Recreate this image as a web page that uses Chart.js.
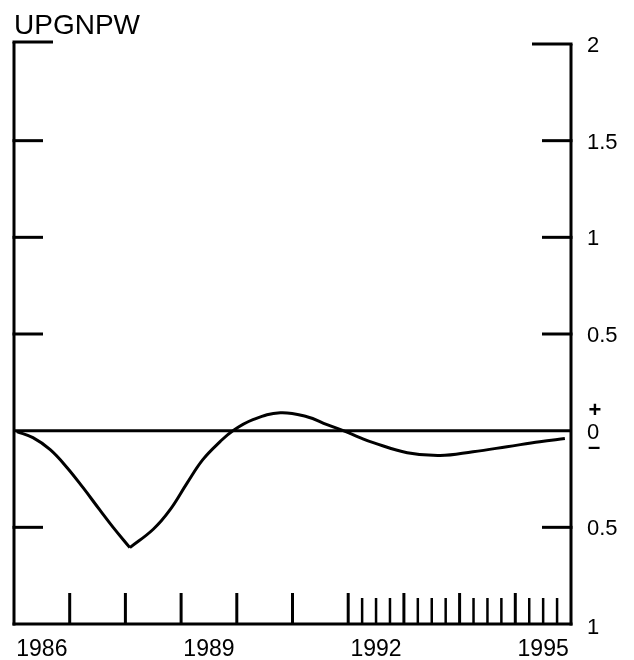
<!DOCTYPE html>
<html>
<head>
<meta charset="utf-8">
<title>UPGNPW</title>
<script src="https://cdn.jsdelivr.net/npm/chart.js@4.4.0/dist/chart.umd.min.js"></script>
<style>
  html, body { margin: 0; padding: 0; background: #fff; }
  #wrap { width: 634px; height: 660px; position: relative; }
</style>
</head>
<body>
<div id="wrap"><canvas id="myChart"></canvas></div>
<script>
'use strict'

// values (year as decimal, deviation)
const times = [1986.05, 1986.34, 1986.65, 1986.95, 1987.24, 1987.54, 1987.78, 1988.08, 1988.50, 1988.80,
               1989.11, 1989.39, 1989.70, 1989.93, 1990.29, 1990.78, 1991.26, 1991.62, 1991.91, 1992.21,
               1992.45, 1993.06, 1993.65, 1994.24, 1994.85, 1995.44, 1995.89];
const values = [-0.005, -0.036, -0.098, -0.19, -0.295, -0.41, -0.50, -0.605, -0.51, -0.41,
                -0.27, -0.15, -0.057, 0, 0.057, 0.093, 0.072, 0.031, 0, -0.036,
                -0.062, -0.114, -0.129, -0.109, -0.083, -0.057, -0.041];

const yTicks = [2, 1.5, 1, 0.5, -0.5, -1];
const yTickLabels = ['2', '1.5', '1', '0.5', '0.5', '1'];
const yearLabels = [1986, 1989, 1992, 1995];
const majorYears = [1987, 1988, 1989, 1990, 1991, 1992, 1993, 1994, 1995];
const quarterStart = 1992;
const quarterEnd = 1996;
const title = 'UPGNPW';

const points = times.map((t, i) => ({ x: t, y: values[i] }));
// the curve has a sharp turn at its lowest point, so draw it as two pieces
const lowIdx = values.indexOf(Math.min(...values));
const partA = points.slice(0, lowIdx + 1);
const partB = points.slice(lowIdx);

const FONT = '"Liberation Sans", Arial, Helvetica, sans-serif';

// frame, inward ticks and labels, drawn from the chart scales
const framePlugin = {
    id: 'frame',
    afterDraw(chart) {
        const ctx = chart.ctx;
        const xs = chart.scales.x;
        const ys = chart.scales.y;
        const L = xs.getPixelForValue(1986);
        const R = xs.getPixelForValue(1996);
        const T = ys.getPixelForValue(2);
        const B = ys.getPixelForValue(-1);
        const Z = ys.getPixelForValue(0);

        ctx.save();
        ctx.strokeStyle = '#000';
        ctx.lineWidth = 3;
        ctx.lineCap = 'butt';

        const line = (x1, y1, x2, y2) => {
            ctx.beginPath();
            ctx.moveTo(x1, y1);
            ctx.lineTo(x2, y2);
            ctx.stroke();
        };

        // axes
        line(L, T - 2, L, B + 1.5);
        line(R, T, R, B + 1.5);
        line(L - 1.5, B, R + 1.5, B);
        line(L, Z, R, Z);

        // left/right ticks
        yTicks.forEach(v => {
            if (v === -1) return;
            const y = ys.getPixelForValue(v);
            const len = v === 2 ? 39 : 29;
            line(L - 1.5, v === 2 ? y - 2 : y, L + len, v === 2 ? y - 2 : y);
            line(R - len, y, R + 1.5, y);
        });

        // bottom ticks
        majorYears.forEach(yr => {
            const x = xs.getPixelForValue(yr);
            line(x, B, x, B - 31);
        });
        for (let q = quarterStart; q < quarterEnd; q += 0.25) {
            if (Number.isInteger(q)) continue;
            const x = xs.getPixelForValue(q);
            ctx.lineWidth = 2.5;
            line(x, B, x, B - 26);
            ctx.lineWidth = 3;
        }

        // labels
        ctx.fillStyle = '#000';
        ctx.font = '22px ' + FONT;
        ctx.textAlign = 'left';
        ctx.textBaseline = 'middle';
        yTicks.forEach((v, i) => {
            const y = ys.getPixelForValue(v);
            ctx.fillText(yTickLabels[i], R + 16, v === -1 ? y + 4 : y + 2);
        });
        ctx.fillText('0', R + 16, Z + 2);
        ctx.font = 'bold 22px ' + FONT;
        ctx.textAlign = 'center';
        ctx.fillText('+', R + 24, Z - 20);
        ctx.fillText('\u2013', R + 23, Z + 17);

        ctx.font = '23px ' + FONT;
        ctx.textAlign = 'center';
        yearLabels.forEach(yr => {
            const x = xs.getPixelForValue(yr + 0.5);
            ctx.fillText(String(yr), x, B + 26);
        });

        ctx.font = '28px ' + FONT;
        ctx.textAlign = 'left';
        ctx.textBaseline = 'alphabetic';
        ctx.fillText(title, L, 34);
        ctx.restore();
    }
};

const lineStyle = {
    borderColor: '#000',
    borderWidth: 3,
    pointRadius: 0,
    tension: 0.4,
    fill: false
};

const ctx = document.getElementById('myChart');

new Chart(ctx, {
    type: 'line',
    data: {
        datasets: [
            { label: title, data: partA, ...lineStyle },
            { label: title, data: partB, ...lineStyle }
        ]
    },
    options: {
        responsive: true,
        maintainAspectRatio: false,
        animation: false,
        layout: { padding: { left: 14, right: 63, top: 44, bottom: 36 } },
        plugins: {
            legend: { display: false },
            tooltip: { enabled: false }
        },
        scales: {
            x: { type: 'linear', min: 1986, max: 1996, display: false },
            y: { min: -1, max: 2, display: false }
        }
    },
    plugins: [framePlugin]
});
</script>
</body>
</html>
